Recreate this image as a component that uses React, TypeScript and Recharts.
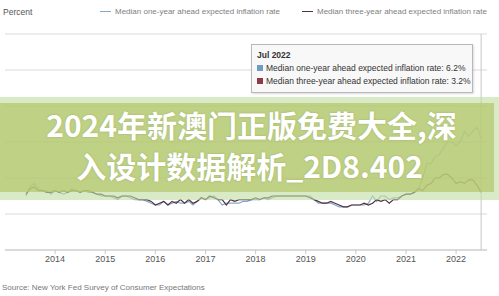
import { LineChart, Line, XAxis, YAxis, CartesianGrid, Tooltip } from "recharts";

const START_YEAR = 2013;
const START_MONTH = 5; // June 2013 is the first survey month
const MONTHS = ["Jan", "Feb", "Mar", "Apr", "May", "Jun", "Jul", "Aug", "Sep", "Oct", "Nov", "Dec"];
const YEAR_TICKS = [2014, 2015, 2016, 2017, 2018, 2019, 2020, 2021, 2022];
const Y_TICKS = [0, 2, 4, 6, 8, 10, 12];

// Jun 2013 .. Jul 2022, monthly medians (%)
const ONE_YEAR = [
  3.0, 3.5, 3.7, 3.4, 3.3, 3.3, 3.1,
  3.3, 3.2, 3.1, 3.2, 3.4, 3.3, 3.2, 3.3, 3.2, 3.2, 3.1, 3.0,
  3.0, 3.0, 2.9, 2.8, 3.0, 3.0, 2.9, 2.8, 2.8, 2.8, 2.7, 2.6,
  2.5, 2.5, 2.7, 2.5, 2.6, 2.7, 2.6, 2.6, 2.7, 2.5, 2.7, 2.9,
  2.8, 2.9, 3.0, 2.8, 2.5, 2.6, 2.6, 2.6, 2.6, 2.7, 2.7, 2.8,
  2.8, 2.8, 2.9, 2.8, 2.9, 3.0, 3.0, 3.0, 3.0, 3.0, 3.0, 3.0,
  3.0, 3.0, 2.8, 2.6, 2.6, 2.6, 2.6, 2.5, 2.4, 2.4, 2.4, 2.5,
  2.5, 2.5, 2.5, 2.6, 3.0, 2.7, 3.0, 3.0, 2.8, 2.9, 2.9, 3.0,
  3.1, 3.1, 3.2, 3.4, 4.0, 4.8, 4.8, 5.2, 5.3, 5.7, 6.0, 6.0,
  5.8, 6.0, 6.6, 6.3, 6.6, 6.8, 6.2,
];

const THREE_YEAR = [
  3.1, 3.4, 3.5, 3.3, 3.3, 3.2, 3.2,
  3.3, 3.2, 3.3, 3.2, 3.3, 3.3, 3.2, 3.3, 3.3, 3.2, 3.1, 3.1,
  3.0, 3.0, 3.0, 2.9, 3.0, 3.0, 3.0, 2.9, 2.8, 2.8, 2.8, 2.7,
  2.5, 2.6, 2.7, 2.5, 2.7, 2.6, 2.8, 2.6, 2.8, 2.6, 2.7, 2.9,
  2.8, 3.0, 2.9, 2.8, 2.8, 2.5, 2.8, 2.7, 2.8, 2.8, 2.8, 2.8,
  2.9, 2.8, 2.9, 2.9, 3.0, 3.0, 3.0, 3.0, 3.0, 3.0, 3.0, 3.0,
  3.0, 2.9, 2.8, 2.7, 2.6, 2.6, 2.7, 2.6, 2.5, 2.4, 2.4, 2.5,
  2.5, 2.5, 2.6, 2.5, 2.6, 2.8, 2.7, 2.8, 2.6, 2.8, 2.8, 3.0,
  3.1, 3.1, 3.2, 3.4, 3.3, 3.6, 3.7, 4.0, 4.0, 4.2, 4.2, 4.0,
  3.7, 3.8, 3.7, 3.9, 3.9, 3.6, 3.2,
];

const SERIES = [
  { key: "oneYear", name: "Median one-year ahead expected inflation rate", color: "#86a9cc", swatch: "#6f9cc4", legendX: 100 },
  { key: "threeYear", name: "Median three-year ahead expected inflation rate", color: "#553040", swatch: "#8c3a45", legendX: 302 },
];

const data = ONE_YEAR.map((v, i) => {
  const m = START_MONTH + i;
  return {
    t: i,
    label: `${MONTHS[m % 12]} ${START_YEAR + Math.floor(m / 12)}`,
    oneYear: v,
    threeYear: THREE_YEAR[i],
  };
});

const yearIndex = (y: number) => (y - START_YEAR) * 12 - START_MONTH;

const FONT = '"Liberation Sans", Arial, sans-serif';

function YTick({ y, payload }: any) {
  return (
    <text x={21} y={y - 3} textAnchor="end" fontSize={9} fill="#555" fontFamily={FONT}>
      {payload.value}
    </text>
  );
}

function TipBox({ active, payload }: any) {
  if (!active || !payload || !payload.length) return null;
  const row = payload[0].payload;
  return (
    <div
      style={{
        width: 210,
        padding: "4px 5px",
        background: "rgba(247,247,247,0.92)",
        border: "1px solid #b8b8b8",
        boxShadow: "1px 1px 2px rgba(0,0,0,0.15)",
        fontFamily: FONT,
        fontSize: 8.5,
        color: "#333",
        lineHeight: "13px",
      }}
    >
      <div style={{ fontWeight: 700 }}>{row.label}</div>
      {SERIES.map((s) => (
        <div key={s.key} style={{ whiteSpace: "nowrap" }}>
          <span style={{ display: "inline-block", width: 6, height: 6, background: s.swatch, marginRight: 3 }} />
          {s.name}: {row[s.key]}%
        </div>
      ))}
    </div>
  );
}

export default function App() {
  return (
    <div
      style={{
        position: "absolute",
        left: 0,
        top: 0,
        width: 499,
        height: 296,
        background: "#fff",
        overflow: "hidden",
        fontFamily: FONT,
      }}
    >
      <LineChart width={499} height={296} data={data} margin={{ top: 34, right: 12, bottom: 26, left: 5 }}>
        <CartesianGrid vertical={false} stroke="#d9d9d9" />
        <XAxis
          dataKey="t"
          type="number"
          domain={[-5, 110.4]}
          ticks={YEAR_TICKS.map(yearIndex)}
          tickFormatter={(t: number) => String(START_YEAR + (t + START_MONTH) / 12)}
          height={20}
          stroke="#c8c8c8"
          tickSize={4}
          tickMargin={2}
          tick={{ fontSize: 9, fill: "#555", fontFamily: FONT }}
        />
        <YAxis domain={[0, 12]} ticks={Y_TICKS} width={0} axisLine={false} tickLine={false} tick={<YTick />} />
        <Tooltip
          active
          defaultIndex={109}
          position={{ x: 251, y: 44 }}
          cursor={{ stroke: "#c8c8c8", strokeWidth: 1 }}
          content={<TipBox />}
          isAnimationActive={false}
        />
        {SERIES.map((s) => (
          <Line
            key={s.key}
            dataKey={s.key}
            name={s.name}
            stroke={s.color}
            strokeWidth={1.2}
            dot={false}
            activeDot={false}
            type="linear"
            isAnimationActive={false}
          />
        ))}
      </LineChart>

      {/* header: unit + legend */}
      <div style={{ position: "absolute", left: 3, top: 7, fontSize: 8.5, color: "#555" }}>Percent</div>
      {SERIES.map((s) => (
        <div
          key={s.key}
          style={{
            position: "absolute",
            left: s.legendX,
            top: 7,
            display: "flex",
            alignItems: "center",
            fontSize: 8,
            color: "#808080",
            whiteSpace: "nowrap",
          }}
        >
          <span style={{ display: "inline-block", width: 11, height: 1.5, background: s.color, marginRight: 4 }} />
          {s.name}
        </div>
      ))}

      <div style={{ position: "absolute", left: 2, top: 283, fontSize: 8, color: "#777" }}>
        Source: New York Fed Survey of Consumer Expectations
      </div>

      {/* watermark banner */}
      <div style={{ position: "absolute", left: 0, top: 97, width: 499, height: 103, background: "rgba(190,222,160,0.6)", pointerEvents: "none" }} />
      <div style={{ position: "absolute", left: 0, top: 103, width: 494, height: 89, background: "rgba(182,198,108,0.72)", pointerEvents: "none" }} />
      <div
        style={{
          position: "absolute",
          left: 0,
          top: 104,
          width: 499,
          textAlign: "center",
          fontFamily: '"Noto Sans CJK SC", sans-serif',
          fontWeight: 700,
          fontSize: 30,
          lineHeight: "41px",
          color: "#fff",
          textShadow: "0 0 2px rgba(110,130,60,0.45)",
          pointerEvents: "none",
        }}
      >
        <div style={{ marginLeft: 4 }}>2024年新澳门正版免费大全,深</div>
        <div>入设计数据解析_2D8.402</div>
      </div>
    </div>
  );
}
